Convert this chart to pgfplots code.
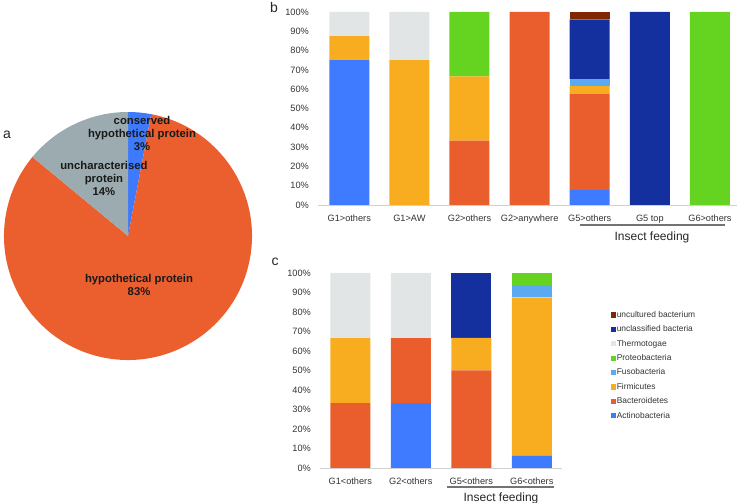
\documentclass[border=0pt]{standalone}
\usepackage{fontspec}
\setmainfont{Liberation Sans}
\usepackage{pgfplots}
\usepackage{pgfplotstable}
\pgfplotsset{compat=1.18}

\definecolor{cAct}{HTML}{3F7BFE}
\definecolor{cBac}{HTML}{EA5E2E}
\definecolor{cFir}{HTML}{F7AD1F}
\definecolor{cFus}{HTML}{5BA9F1}
\definecolor{cPro}{HTML}{64D421}
\definecolor{cThe}{HTML}{E1E5E5}
\definecolor{cUcl}{HTML}{13309E}
\definecolor{cUcu}{HTML}{7F2904}
\definecolor{pBlue}{HTML}{3D7AFD}
\definecolor{pOrange}{HTML}{EB5F2F}
\definecolor{pGray}{HTML}{9BABAF}

% panel b: share of each phylum per group (%)
\pgfplotstableread{
x act bac fir fus pro the ucl ucu
0 75 0 12.5 0 0 12.5 0 0
1 0 0 75 0 0 25 0 0
2 0 33.33 33.33 0 33.34 0 0 0
3 0 100 0 0 0 0 0 0
4 7.69 50 3.85 3.85 0 0 30.77 3.84
5 0 0 0 0 0 0 100 0
6 0 0 0 0 100 0 0 0
}\tabb

% panel c
\pgfplotstableread{
x act bac fir fus pro the ucl ucu
0 0 33.33 33.33 0 0 33.34 0 0
1 33.33 33.33 0 0 0 33.34 0 0
2 0 50 16.67 0 0 0 33.33 0
3 6.25 0 81.25 6.25 6.25 0 0 0
}\tabc

\pgfplotsset{
  stk/.style={ybar stacked, bar width=40pt, scale only axis,
    ymin=0, ymax=100, ytick={0,10,...,100},
    yticklabels={0\%,10\%,20\%,30\%,40\%,50\%,60\%,70\%,80\%,90\%,100\%},
    axis x line*=bottom, axis y line*=left,
    y axis line style={draw=none},
    x axis line style={draw=black!18, line width=0.8pt},
    major tick length=0pt,
    tick label style={font=\fontsize{9.2}{10}\selectfont, text=black!80},
    yticklabel style={inner sep=0pt, xshift=-9pt},
    xticklabel style={inner sep=0pt, yshift=-10pt},
    xtick=data, clip=false},
  sb/.style={fill=#1, draw=none},
}

\begin{document}
\begin{tikzpicture}
\useasboundingbox (0pt,0pt) rectangle (744pt,503pt);

% ---- a: pie ----
\begin{axis}[at={(128pt,267pt)}, anchor=center, scale only axis,
    width=248pt, height=248pt, xmin=-1, xmax=1, ymin=-1, ymax=1,
    hide axis, clip=false]
  \pgfmathsetmacro{\aA}{90-3*3.6}
  \pgfmathsetmacro{\aB}{90-(3+83)*3.6}
  \fill[pBlue] (axis cs:0,0) -- ++(90:124pt) arc[start angle=90, end angle=\aA, radius=124pt] -- cycle;
  \fill[pOrange] (axis cs:0,0) -- ++(\aA:124pt) arc[start angle=\aA, end angle=\aB, radius=124pt] -- cycle;
  \fill[pGray] (axis cs:0,0) -- ++(\aB:124pt) arc[start angle=\aB, end angle=-270, radius=124pt] -- cycle;
  \begin{scope}[every node/.style={font=\fontsize{11.3}{13}\selectfont\bfseries, align=center, text=black!90}]
  \node at (axis cs:0.113,0.83) {conserved\\hypothetical protein\\3\%};
  \node at (axis cs:-0.194,0.468) {uncharacterised\\protein\\14\%};
  \node at (axis cs:0.089,-0.395) {hypothetical protein\\83\%};
  \end{scope}
\end{axis}

% ---- b ----
\begin{axis}[stk, at={(318pt,298pt)}, anchor=south west,
    width=419pt, height=193pt, xmin=-0.52, xmax=6.45,
    xticklabels={G1>others,G1>AW,G2>others,G2>anywhere,G5>others,G5 top,G6>others}]
  \addplot[sb=cAct] table[x=x,y=act]{\tabb};
  \addplot[sb=cBac] table[x=x,y=bac]{\tabb};
  \addplot[sb=cFir] table[x=x,y=fir]{\tabb};
  \addplot[sb=cFus] table[x=x,y=fus]{\tabb};
  \addplot[sb=cPro] table[x=x,y=pro]{\tabb};
  \addplot[sb=cThe] table[x=x,y=the]{\tabb};
  \addplot[sb=cUcl] table[x=x,y=ucl]{\tabb};
  \addplot[sb=cUcu] table[x=x,y=ucu]{\tabb};
\end{axis}

% ---- c ----
\begin{axis}[stk, at={(320pt,35pt)}, anchor=south west,
    width=242pt, height=195pt, xmin=-0.5, xmax=3.5,
    xticklabels={G1<others,G2<others,G5<others,G6<others},
    reverse legend, legend cell align=left,
    legend image code/.code={\fill[#1] (0pt,-2.6pt) rectangle (5.2pt,2.6pt);},
    legend style={at={(1.2,0.81)}, anchor=north west, draw=none, fill=none,
      font=\fontsize{8.4}{10}\selectfont, text=black!80, row sep=4.8pt,
      inner sep=0pt, nodes={inner sep=1pt}}]
  \addplot[sb=cAct] table[x=x,y=act]{\tabc};
  \addplot[sb=cBac] table[x=x,y=bac]{\tabc};
  \addplot[sb=cFir] table[x=x,y=fir]{\tabc};
  \addplot[sb=cFus] table[x=x,y=fus]{\tabc};
  \addplot[sb=cPro] table[x=x,y=pro]{\tabc};
  \addplot[sb=cThe] table[x=x,y=the]{\tabc};
  \addplot[sb=cUcl] table[x=x,y=ucl]{\tabc};
  \addplot[sb=cUcu] table[x=x,y=ucu]{\tabc};
  \legend{Actinobacteria,Bacteroidetes,Firmicutes,Fusobacteria,Proteobacteria,Thermotogae,unclassified bacteria,uncultured bacterium}
\end{axis}

% ---- insect feeding brackets ----
\draw[black!55, line width=1.2pt] (580pt,278pt) -- (725pt,278pt);
\node[font=\fontsize{12}{14}\selectfont, text=black!85] at (652pt,266pt) {Insect feeding};
\draw[black!55, line width=1.2pt] (447pt,16pt) -- (554pt,16pt);
\node[font=\fontsize{12}{14}\selectfont, text=black!85] at (501pt,5pt) {Insect feeding};

% ---- panel letters ----
\begin{scope}[every node/.style={font=\fontsize{14}{16}\selectfont, text=black!85}]
\node at (7pt,368pt) {a};
\node at (274pt,495pt) {b};
\node at (275pt,241pt) {c};
\end{scope}
\end{tikzpicture}
\end{document}
